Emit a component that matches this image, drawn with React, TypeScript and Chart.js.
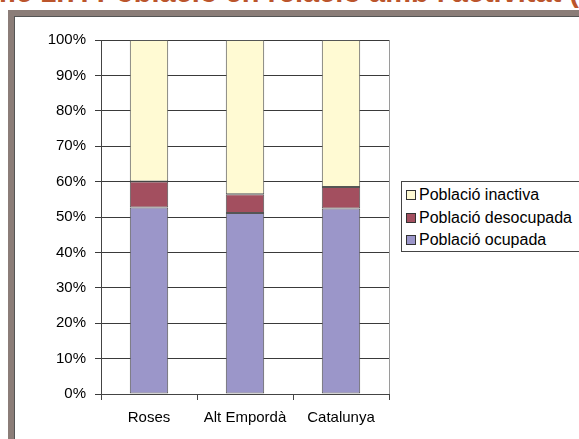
import React, { useEffect, useRef } from "react";
import { Chart, registerables } from "chart.js";

Chart.register(...registerables);

const categories = ["Roses", "Alt Empordà", "Catalunya"];
const ocupada = [52.7, 51.1, 52.4];
const desocupada = [7.3, 5.3, 6.1];
const inactiva = [40.0, 43.6, 41.5];
const seriesNames = ["Població ocupada", "Població desocupada", "Població inactiva"];
const seriesColors = ["#9b96c9", "#a34f5f", "#fffad3"];
const yTicks = [0, 10, 20, 30, 40, 50, 60, 70, 80, 90, 100];
const titleText = "Gràfic 1.7. Població en relació amb l'activitat (";
const titleTail = "%)";

const FONT = "'Liberation Sans', Arial, sans-serif";

const rightBorder = {
  id: "rightBorder",
  afterDraw(chart: any) {
    const { ctx, chartArea } = chart;
    ctx.save();
    ctx.strokeStyle = "#9a9a9a";
    ctx.lineWidth = 1;
    ctx.beginPath();
    ctx.moveTo(Math.round(chartArea.right) + 0.5, chartArea.top);
    ctx.lineTo(Math.round(chartArea.right) + 0.5, chartArea.bottom);
    ctx.stroke();
    ctx.restore();
  },
};

export default function App() {
  const ref = useRef<HTMLCanvasElement>(null);
  useEffect(() => {
    const values = [ocupada, desocupada, inactiva];
    const chart = new Chart(ref.current!, {
      type: "bar",
      data: {
        labels: categories,
        datasets: values.map((v, i) => ({
          label: seriesNames[i],
          data: v,
          backgroundColor: seriesColors[i],
          borderColor: "#555",
          borderWidth: 1,
          borderSkipped: false,
          barPercentage: 0.4,
          categoryPercentage: 1,
        })),
      },
      options: {
        animation: false,
        responsive: false,
        events: [],
        layout: { padding: { left: 0, top: 40, right: 190, bottom: 0 } },
        plugins: { legend: { display: false }, tooltip: { enabled: false } },
        scales: {
          x: {
            stacked: true,
            afterFit: (s: any) => {
              s.height = 45;
            },
            grid: {
              display: true,
              drawOnChartArea: false,
              offset: true,
              tickLength: 6,
              color: "#444",
            },
            border: { color: "#444" },
            ticks: { color: "#000", padding: 9, font: { family: FONT, size: 15 } },
          },
          y: {
            stacked: true,
            min: 0,
            max: 100,
            afterFit: (s: any) => {
              s.width = 101;
            },
            afterBuildTicks: (s: any) => {
              s.ticks = yTicks.map((v) => ({ value: v }));
            },
            grid: { color: "#3a3a3a", tickLength: 6 },
            border: { color: "#444" },
            ticks: {
              color: "#000",
              padding: 9,
              font: { family: FONT, size: 15 },
              callback: (v: any) => v + "%",
            },
          },
        },
      },
      plugins: [rightBorder],
    });
    return () => chart.destroy();
  }, []);

  const legendOrder = [2, 1, 0];
  return (
    <div style={{ position: "fixed", left: 0, top: 0, width: 579, height: 439, overflow: "hidden", background: "#fff" }}>
      <div
        style={{
          position: "absolute",
          right: 0,
          top: -25,
          whiteSpace: "nowrap",
          font: `bold 29px ${FONT}`,
          color: "#bb552c",
          lineHeight: "34px",
        }}
      >
        {titleText}
        <span style={{ position: "absolute", left: "100%", top: 0 }}>{titleTail}</span>
      </div>
      <div
        style={{
          position: "absolute",
          left: 8,
          top: 10,
          width: 600,
          height: 460,
          borderLeft: "6px solid #8b7d78",
          borderTop: "6px solid #8b7d78",
        }}
      >
        <div style={{ width: "100%", height: "100%", borderLeft: "1px solid #555", borderTop: "1px solid #555" }} />
      </div>
      <canvas ref={ref} width={579} height={439} style={{ position: "absolute", left: 0, top: 0, width: 579, height: 439 }} />
      <div
        style={{
          position: "absolute",
          left: 401,
          top: 181,
          width: 200,
          height: 69,
          border: "1px solid #444",
          background: "#fff",
        }}
      >
        {legendOrder.map((i, k) => (
          <div
            key={i}
            style={{
              position: "absolute",
              left: 4,
              top: 13 + k * 22.5 - 9,
              height: 18,
              display: "flex",
              alignItems: "center",
              whiteSpace: "nowrap",
              font: `16px ${FONT}`,
              color: "#000",
            }}
          >
            <span
              style={{
                display: "inline-block",
                width: 8,
                height: 8,
                border: "1px solid #333",
                background: seriesColors[i],
                marginRight: 3,
              }}
            />
            {seriesNames[i]}
          </div>
        ))}
      </div>
    </div>
  );
}
